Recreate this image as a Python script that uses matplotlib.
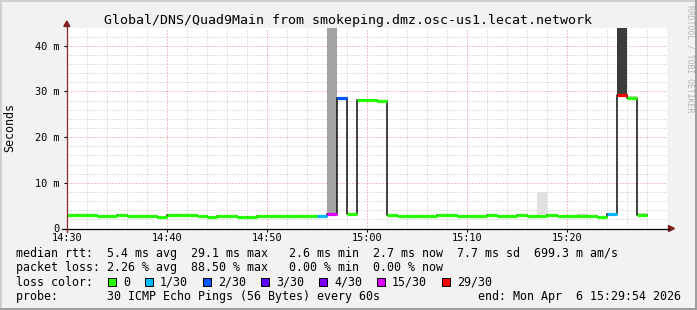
import numpy as np
import matplotlib
matplotlib.use("Agg")
import matplotlib.pyplot as plt
from matplotlib.patches import Polygon, Rectangle

# smokeping style rtt graph, one value per minute from 14:30
W, H = 697, 310

title = "Global/DNS/Quad9Main from smokeping.dmz.osc-us1.lecat.network"
xtick_pos = [0, 10, 20, 30, 40, 50]
xtick_labels = ["14:30", "14:40", "14:50", "15:00", "15:10", "15:20"]
ytick_pos = [0, 10, 20, 30, 40]
ytick_labels = ["0", "10 m", "20 m", "30 m", "40 m"]

# median rtt (ms)
median_ms = [2.9, 2.9, 2.9, 2.76, 2.76, 2.98, 2.76, 2.76, 2.76, 2.62,
             2.9, 2.9, 2.9, 2.76, 2.62, 2.76, 2.76, 2.62, 2.62, 2.76,
             2.76, 2.76, 2.76, 2.76, 2.76, 2.76, 3.28, 28.6, 3.28, 28.1,
             28.1, 27.8, 2.95, 2.76, 2.76, 2.76, 2.76, 2.9, 2.9, 2.76,
             2.76, 2.76, 2.95, 2.8, 2.8, 3.0, 2.8, 2.8, 2.95, 2.8,
             2.8, 2.8, 2.8, 2.6, 3.12, 29.3, 28.5, 2.85]
# lost pings out of 30
loss_cnt = [0] * 25 + [1, 15, 2] + [0] * 26 + [1, 29, 0, 0]
# smoke (spread of the pings)
smoke_lo = [2.7, 2.7, 2.75, 2.65, 2.65, 2.8, 2.65, 2.65, 2.65, 2.5,
            2.8, 2.8, 2.8, 2.65, 2.5, 2.65, 2.65, 2.5, 2.5, 2.65,
            2.65, 2.65, 2.65, 2.65, 2.65, 2.65, 3.1, 28.2, 3.15, 27.8,
            27.8, 27.4, 2.85, 2.65, 2.65, 2.65, 2.65, 2.8, 2.8, 2.65,
            2.65, 2.65, 2.8, 2.7, 2.7, 2.85, 2.7, 2.6, 2.8, 2.7,
            2.7, 2.7, 2.7, 2.5, 2.9, 29.2, 28.4, 2.7]
smoke_hi = [3.0, 3.0, 3.0, 2.9, 2.9, 3.1, 2.9, 2.9, 2.9, 2.8,
            3.05, 3.05, 3.05, 2.9, 2.8, 2.9, 2.9, 2.8, 2.8, 2.9,
            2.9, 2.9, 2.9, 2.95, 2.95, 2.9, 60.0, 28.7, 3.4, 28.3,
            28.3, 28.0, 3.1, 2.9, 2.9, 2.9, 2.9, 3.05, 3.05, 2.9,
            2.9, 2.9, 3.1, 2.95, 2.95, 3.15, 3.0, 8.05, 3.1, 3.0,
            3.0, 3.1, 3.0, 2.8, 3.3, 60.0, 28.9, 3.5]

loss_levels = [0, 1, 2, 3, 4, 15, 29]
loss_labels = ["0", "1/30", "2/30", "3/30", "4/30", "15/30", "29/30"]
loss_colors = ['#26ff00', '#00b8ff', '#0059ff', '#5e00ff', '#7e00ff', '#dd00ff', '#ff0000']

legend_rows = [
    "median rtt:  5.4 ms avg  29.1 ms max   2.6 ms min  2.7 ms now  7.7 ms sd  699.3 m am/s",
    "packet loss: 2.26 % avg  88.50 % max   0.00 % min  0.00 % now",
    "loss color:",
    "probe:       30 ICMP Echo Pings (56 Bytes) every 60s",
]
end_text = "end: Mon Apr  6 15:29:54 2026"

plt.rcParams['font.family'] = 'DejaVu Sans Mono'

fig = plt.figure(figsize=(W / 100, H / 100), dpi=100, facecolor='#f2f2f2')


def fx(x):
    return x / W


def fy(y):
    return 1 - y / H


ax_l, ax_r, ax_t, ax_b = 67, 667, 28, 228.5
ax = fig.add_axes([fx(ax_l), fy(ax_b), (ax_r - ax_l) / W, (ax_b - ax_t) / H])
ax.set_facecolor('white')
ax.set_xlim(0, 60)
ax.set_ylim(0, 43.87)
for s in ax.spines.values():
    s.set_visible(False)

# grid
dot = (0, (1, 2))
for x in range(2, 60, 2):
    if x % 10:
        ax.axvline(x, color='#c4c4c4', lw=0.72, ls=dot, zorder=0)
    else:
        ax.axvline(x, color='#e48a8a', lw=0.72, ls=dot, zorder=0)
for y in range(2, 44, 2):
    if y % 10:
        ax.axhline(y, color='#c4c4c4', lw=0.72, ls=dot, zorder=0)
    else:
        ax.axhline(y, color='#e48a8a', lw=0.72, ls=dot, zorder=0)

n = len(median_ms)
k = np.arange(n)
lo = np.array(smoke_lo)
hi = np.array(smoke_hi)

shade = []
for i in range(n):
    if loss_cnt[i] >= 29:
        shade.append('#3c3c3c')
    elif loss_cnt[i] >= 15:
        shade.append('#a3a3a3')
    elif hi[i] - lo[i] > 3:
        shade.append('#e0e0e0')
    else:
        shade.append('#cdcdcd')
ax.bar(k, hi - lo, bottom=lo, width=1, align='edge', color=shade, lw=0, zorder=1)

# black median line with steps
ax.step(np.arange(n + 1), median_ms + [median_ms[-1]], where='post',
        color='#202020', lw=1.2, zorder=2)

seg_colors = []
for c in loss_cnt:
    idx = max(i for i, lv in enumerate(loss_levels) if lv <= c)
    seg_colors.append(loss_colors[idx])
ax.hlines(median_ms, k, k + 1, colors=seg_colors, lw=2.3, zorder=3)

ax.set_xticks(xtick_pos, xtick_labels)
ax.set_yticks(ytick_pos, ytick_labels)
ax.tick_params(axis='x', length=2.2, width=0.8, pad=1.2, labelsize=7.4, color='black')
ax.tick_params(axis='y', length=2.2, width=0.8, pad=3.0, labelsize=7.4, color='black')

# axis lines and arrows
fig.add_artist(plt.Line2D([fx(62), fx(669)], [fy(228.5), fy(228.5)], color='black', lw=0.9))
fig.add_artist(plt.Line2D([fx(67), fx(67)], [fy(231.5), fy(26)], color='#8a2a2a', lw=0.9))
fig.add_artist(Polygon([(fx(66.8), fy(21)), (fx(63.8), fy(26.5)), (fx(69.8), fy(26.5))],
                       closed=True, color='#7f1f1f', transform=fig.transFigure))
fig.add_artist(Polygon([(fx(674.5), fy(228.5)), (fx(668.5), fy(225.5)), (fx(668.5), fy(231.5))],
                       closed=True, color='#7f1f1f', transform=fig.transFigure))

# texts
fig.text(fx(347.5), fy(24), title, ha='center', va='baseline', fontsize=9.55)
fig.text(fx(10), fy(127), "Seconds", rotation=90, ha='center', va='center', fontsize=8.4)
fig.text(fx(690), fy(5), "RRDTOOL / TOBI OETIKER", rotation=270, ha='center', va='top',
         fontsize=5.9, color='#b4b4b4')

row_y = [257, 271.5, 285.8, 300]
for txt, y in zip(legend_rows, row_y):
    fig.text(fx(16), fy(y), txt, ha='left', va='baseline', fontsize=8.4)
fig.text(fx(681), fy(300), end_text, ha='right', va='baseline', fontsize=8.4)

bx = 108
for lab, col in zip(loss_labels, loss_colors):
    fig.add_artist(Rectangle((fx(bx), fy(285.5)), 8 / W, 8 / H, facecolor=col,
                             edgecolor='black', lw=0.72, transform=fig.transFigure))
    fig.text(fx(bx + 15), fy(285.8), lab, ha='left', va='baseline', fontsize=8.4)
    bx = bx + 15 + 7 * len(lab) + 15

# frame shading
fig.add_artist(Rectangle((0, fy(2)), 1, 2 / H, color='#cfcfcf', transform=fig.transFigure, lw=0))
fig.add_artist(Rectangle((0, 0), 2 / W, 1, color='#cfcfcf', transform=fig.transFigure, lw=0))
fig.add_artist(Rectangle((0, 0), 1, 2.5 / H, color='#9e9e9e', transform=fig.transFigure, lw=0))
fig.add_artist(Rectangle((fx(694.5), 0), 2.5 / W, 1, color='#9e9e9e', transform=fig.transFigure, lw=0))

fig.savefig("out.png", dpi=100, facecolor=fig.get_facecolor())
